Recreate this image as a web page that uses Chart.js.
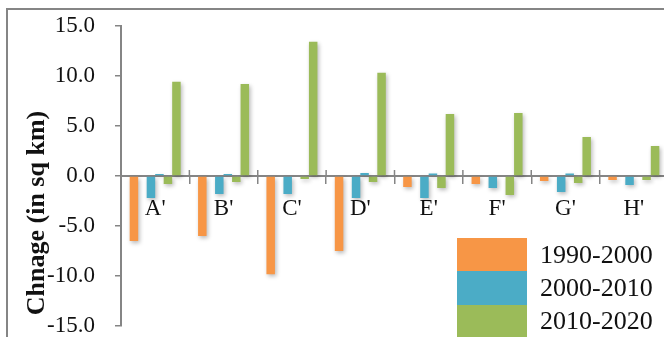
<!DOCTYPE html>
<html>
<head>
<meta charset="utf-8">
<script src="https://cdn.jsdelivr.net/npm/chart.js@4/dist/chart.umd.min.js"></script>
<style>
    html, body { margin: 0; padding: 0; background: #fff; overflow: hidden; }
    #frame {
        position: absolute; left: 6px; top: 8px; width: 720px; height: 400px;
        border-left: 2px solid #858585; border-top: 2px solid #858585;
    }
    #chartCanvas { position: absolute; left: 0; top: -8px; }
    #legend {
        position: absolute; left: 457px; top: 238px;
        font-family: "Liberation Serif", "Times New Roman", serif; font-size: 26px; color: #111;
    }
    .item { display: flex; align-items: center; height: 33.3px; }
    .box { width: 70px; height: 33.3px; margin-right: 13px; }
</style>
</head>
<body>
<div id="frame"></div>
<canvas id="chartCanvas" width="690" height="368"></canvas>
<div id="legend"></div>
<script>

const categories = ["A'", "B'", "C'", "D'", "E'", "F'", "G'", "H'"];

const periods = ["1990-2000", "2000-2010", "2010-2020"];

const colors = ["#F79646", "#4BACC6", "#9BBB59"];

// loss and gain per period, sq km
const loss1990 = [-6.5, -6.0, -9.8, -7.5, -1.1, -0.8, -0.5, -0.4];
const gain1990 = [0, 0, 0, 0, 0, 0, 0, 0];

const loss2000 = [-2.2, -1.8, -1.8, -2.2, -2.2, -1.2, -1.6, -0.9];
const gain2000 = [0.2, 0.2, 0, 0.3, 0.25, 0, 0.25, 0];

const loss2010 = [-0.8, -0.6, -0.3, -0.6, -1.2, -1.9, -0.7, -0.4];
const gain2010 = [9.4, 9.2, 13.4, 10.3, 6.2, 6.3, 3.9, 3.0];

const yTicks = [-15, -10, -5, 0, 5, 10, 15];

const axisTitle = "Chnage (in sq km)";

const serif = "'Liberation Serif', 'Times New Roman', serif";

const series = [
    [loss1990, gain1990],
    [loss2000, gain2000],
    [loss2010, gain2010]
];

const datasets = [];

series.forEach((pair, i) => {

    pair.forEach(values => {

        datasets.push({
            label: periods[i],
            data: values,
            backgroundColor: colors[i],
            borderWidth: 0,
            barPercentage: 1,
            categoryPercentage: 0.746
        });

    });

});

// soft drop shadow under the bars
const barShadow = {
    id: "barShadow",
    beforeDatasetsDraw(chart) {
        const ctx = chart.ctx;
        ctx.save();
        ctx.shadowColor = "rgba(0, 0, 0, 0.28)";
        ctx.shadowBlur = 4;
        ctx.shadowOffsetX = 1.5;
        ctx.shadowOffsetY = 2;
    },
    afterDatasetsDraw(chart) {
        chart.ctx.restore();
    }
};

// category ticks cross the zero line, draw the upper half
const upperTicks = {
    id: "upperTicks",
    afterDraw(chart) {
        const ctx = chart.ctx;
        const x = chart.scales.x;
        const y0 = chart.scales.y.getPixelForValue(0);
        ctx.save();
        ctx.strokeStyle = "#858585";
        ctx.lineWidth = 1.5;
        for (let i = 0; i <= categories.length; i++) {
            const px = x.getPixelForValue(i - 0.5);
            ctx.beginPath();
            ctx.moveTo(px, y0);
            ctx.lineTo(px, y0 - 6);
            ctx.stroke();
        }
        ctx.restore();
    }
};

const axisLabel = {
    id: "axisLabel",
    afterDraw(chart) {
        const ctx = chart.ctx;
        ctx.save();
        ctx.translate(37, 221);
        ctx.rotate(-Math.PI / 2);
        ctx.font = "bold 26px " + serif;
        ctx.fillStyle = "#111";
        ctx.textAlign = "center";
        ctx.textBaseline = "middle";
        ctx.fillText(axisTitle, 0, 0);
        ctx.restore();
    }
};

const ctx =
    document
    .getElementById("chartCanvas")
    .getContext("2d");

new Chart(ctx, {

    type: "bar",

    data: {
        labels: categories,
        datasets
    },

    plugins: [barShadow, upperTicks, axisLabel],

    options: {

        responsive: false,
        animation: false,

        layout: {
            padding: { top: 24, bottom: 12, left: 0, right: 22 }
        },

        plugins: {
            legend: { display: false },
            tooltip: { enabled: false }
        },

        scales: {

            x: {
                position: { y: 0 },
                grid: {
                    offset: true,
                    drawOnChartArea: false,
                    drawTicks: true,
                    tickLength: 7,
                    color: "#858585",
                    lineWidth: 1.5
                },
                border: { color: "#858585", width: 2 },
                ticks: {
                    color: "#111",
                    padding: 12,
                    font: { family: serif, size: 23 }
                }
            },

            y: {
                min: -15,
                max: 15,
                afterBuildTicks(scale) {
                    scale.ticks = yTicks.map(v => ({ value: v }));
                },
                afterFit(scale) {
                    scale.width = 121;
                },
                grid: {
                    drawOnChartArea: false,
                    drawTicks: true,
                    tickLength: 6,
                    color: "#858585",
                    lineWidth: 1.5
                },
                border: { color: "#858585", width: 2 },
                ticks: {
                    color: "#111",
                    padding: 20,
                    font: { family: serif, size: 23 },
                    callback: v => v.toFixed(1)
                }
            }

        }

    }

});

// legend boxes, one per period
const legend = document.getElementById("legend");

periods.forEach((p, i) => {

    const item = document.createElement("div");
    item.className = "item";

    const box = document.createElement("div");
    box.className = "box";
    box.style.background = colors[i];

    const text = document.createElement("span");
    text.textContent = p;

    item.appendChild(box);
    item.appendChild(text);
    legend.appendChild(item);

});

</script>
</body>
</html>
